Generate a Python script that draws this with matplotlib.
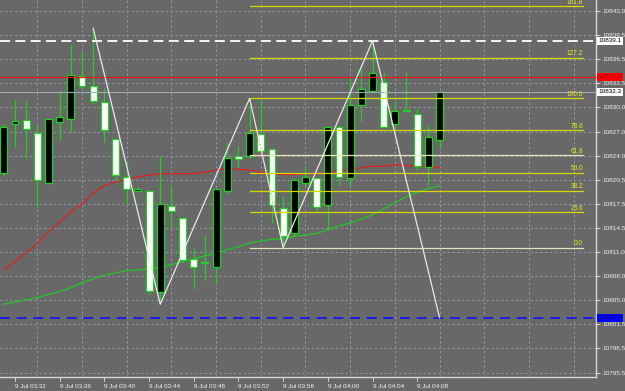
import matplotlib.pyplot as plt
import matplotlib.transforms as mtransforms
import numpy as np

plt.rcParams['font.family'] = ['Liberation Sans', 'DejaVu Sans']

# 1-minute candles, 9 Jul 03:31 .. 04:10
times = ['03:31', '03:32', '03:33', '03:34', '03:35', '03:36', '03:37', '03:38', '03:39', '03:40',
         '03:41', '03:42', '03:43', '03:44', '03:45', '03:46', '03:47', '03:48', '03:49', '03:50',
         '03:51', '03:52', '03:53', '03:54', '03:55', '03:56', '03:57', '03:58', '03:59', '04:00',
         '04:01', '04:02', '04:03', '04:04', '04:05', '04:06', '04:07', '04:08', '04:09', '04:10']
opens = [10821.4, 10828.0, 10828.5, 10826.7, 10820.1, 10828.3, 10828.6, 10834.4, 10833.0, 10830.9,
         10826.0, 10820.8, 10819.0, 10819.0, 10805.4, 10817.0, 10815.3, 10809.9, 10809.3, 10808.8,
         10819.0, 10823.7, 10823.7, 10826.6, 10824.6, 10816.7, 10813.3, 10820.1, 10820.7, 10817.1,
         10827.6, 10820.7, 10830.5, 10832.4, 10833.6, 10828.0, 10829.9, 10829.3, 10822.2, 10825.8]
highs = [10828.0, 10831.2, 10831.0, 10827.9, 10828.6, 10832.4, 10838.6, 10837.8, 10840.8, 10832.8,
         10826.1, 10822.8, 10819.5, 10819.1, 10823.7, 10819.8, 10815.5, 10811.3, 10813.1, 10819.4,
         10825.6, 10825.0, 10831.4, 10831.3, 10824.7, 10818.3, 10820.6, 10822.3, 10820.9, 10827.7,
         10827.8, 10834.3, 10835.4, 10839.1, 10834.8, 10831.1, 10835.0, 10830.1, 10827.8, 10832.3]
lows = [10821.0, 10824.9, 10823.4, 10816.9, 10819.9, 10825.8, 10826.9, 10832.6, 10830.8, 10825.5,
        10820.5, 10817.3, 10818.8, 10805.2, 10803.8, 10814.1, 10809.5, 10805.9, 10807.1, 10806.4,
        10818.7, 10822.2, 10823.4, 10824.1, 10814.7, 10811.4, 10813.0, 10819.6, 10816.2, 10813.8,
        10819.6, 10819.8, 10828.4, 10832.3, 10827.4, 10827.4, 10829.6, 10821.8, 10819.8, 10824.9]
closes = [10827.6, 10828.4, 10827.3, 10820.4, 10828.6, 10828.9, 10834.5, 10833.0, 10831.0, 10827.1,
          10821.1, 10819.3, 10819.3, 10805.6, 10817.2, 10816.3, 10809.8, 10808.8, 10809.4, 10819.3,
          10823.4, 10823.3, 10826.8, 10824.3, 10817.1, 10813.0, 10820.4, 10820.9, 10816.9, 10827.5,
          10820.9, 10830.5, 10832.6, 10834.8, 10827.6, 10829.7, 10829.7, 10822.3, 10826.2, 10832.3]

ma_red = [10808.4, 10809.5, 10810.7, 10811.9, 10813.5, 10814.8, 10816.2, 10817.2, 10818.7, 10819.7,
          10820.2, 10820.5, 10820.9, 10821.1, 10821.3, 10821.3, 10821.3, 10821.3, 10821.5, 10821.8,
          10822.0, 10821.9, 10821.8, 10821.5, 10821.3, 10821.2, 10821.2, 10821.3, 10821.3, 10821.5,
          10821.7, 10821.8, 10822.1, 10822.3, 10822.3, 10822.5, 10822.4, 10822.3, 10822.3, 10822.1]
ma_green = [10803.8, 10804.1, 10804.4, 10804.7, 10805.1, 10805.5, 10806.0, 10806.7, 10807.2, 10807.7,
            10808.0, 10808.3, 10808.4, 10808.5, 10808.7, 10809.1, 10809.5, 10809.9, 10810.3, 10810.6,
            10811.1, 10811.5, 10812.0, 10812.3, 10812.5, 10812.6, 10812.9, 10813.1, 10813.3, 10813.8,
            10814.3, 10814.7, 10815.2, 10815.8, 10816.6, 10817.4, 10818.2, 10818.8, 10819.3, 10819.7]

# zigzag turning points (candle index, price)
zz_idx = [8, 14, 22, 25, 33, 39]
zz_val = [10840.8, 10803.8, 10831.4, 10811.4, 10839.1, 10802.0]

# fibonacci retracement
fib_levels = [0.0, 23.6, 38.2, 50.0, 61.8, 78.6, 100.0, 127.2, 161.8]
fib_from = (25, 10811.4)
fib_to = (22, 10831.4)

line_white = 10839.1
line_red = 10834.3
line_bid = 10832.3
line_blue = 10802.0

ytick_labels = ['10843.0', '10839.5', '10836.5', '10833.5', '10830.0', '10827.0', '10824.0', '10820.5',
                '10817.5', '10814.5', '10811.0', '10808.0', '10805.0', '10801.5', '10798.5', '10795.5']
xtick_labels = ['9 Jul 03:32', '9 Jul 03:36', '9 Jul 03:40', '9 Jul 03:44', '9 Jul 03:48',
                '9 Jul 03:52', '9 Jul 03:56', '9 Jul 04:00', '9 Jul 04:04', '9 Jul 04:08']

bg = '#686868'
grid_c = '#8c98a4'
wick_c = '#22d022'
fg = '#f0f0f0'

fig = plt.figure(figsize=(6.25, 3.91), dpi=100)
fig.patch.set_facecolor(bg)
ax = fig.add_axes([0, 14 / 391, 596 / 625, 377 / 391])
ax.set_facecolor(bg)

x = np.arange(len(times))
o = np.array(opens)
c = np.array(closes)

ax.set_xlim(-0.34, 53.0)
ax.set_ylim(10794.05, 10844.59)

# grid
for gx in np.arange(3, 54, 4):
    ax.axvline(gx, color=grid_c, lw=0.7, ls=(0, (2.5, 2.5)), zorder=0)
ytick_pos = np.linspace(10843.11, 10794.65, len(ytick_labels))
for gy in ytick_pos:
    ax.axhline(gy, color=grid_c, lw=0.7, ls=(0, (2.5, 2.5)), zorder=0)

# moving averages
ax.plot(x, ma_red, color='#e02020', lw=0.9, zorder=2)
ax.plot(x, ma_green, color='#22c822', lw=0.9, zorder=2)

# candles
ax.vlines(x, lows, highs, color=wick_c, lw=0.9, zorder=3)
bull = c >= o
body_h = np.maximum(np.abs(c - o), 0.15)
ax.bar(x, body_h, bottom=np.minimum(o, c), width=0.62,
       color=np.where(bull, 'black', 'white'), edgecolor=wick_c, linewidth=0.9, zorder=4)

# horizontal lines
ax.axhline(line_white, color='white', lw=1.3, ls=(0, (5.5, 3)), zorder=5)
ax.axhline(line_red, color='#e81818', lw=0.9, zorder=5)
ax.axhline(line_bid, color='#a4a8b0', lw=0.8, zorder=5)
ax.axhline(line_blue, color='#1010ff', lw=1.2, ls=(0, (6, 4)), zorder=5)

# fibonacci levels
fib_end = 51.85
rng = fib_to[1] - fib_from[1]
for lvl in fib_levels:
    p = fib_from[1] + rng * lvl / 100
    col = '#e4e4b8' if lvl in (0.0, 61.8) else '#d8d800'
    ax.plot([fib_to[0], fib_end], [p, p], color=col, lw=0.9, zorder=6)
    ax.text(fib_end, p + 0.08, f'{lvl:.1f}', color='#eaea20', fontsize=4.7,
            ha='right', va='bottom', zorder=7)
ax.plot([fib_to[0], fib_from[0]], [fib_to[1], fib_from[1]], color='#ff2020', lw=0.9,
        ls=(0, (1, 1.5)), zorder=6)

# zigzag
ax.plot(zz_idx, zz_val, color='#e8e8e8', lw=0.9, zorder=7)

# axes styling
for s in ['top', 'left']:
    ax.spines[s].set_visible(False)
for s in ['right', 'bottom']:
    ax.spines[s].set_color('#d8d8d8')
    ax.spines[s].set_linewidth(1.0)

ax.yaxis.tick_right()
ax.set_yticks(ytick_pos, ytick_labels)
ax.tick_params(axis='y', colors=fg, labelsize=4.6, length=3, width=0.6, pad=1.5)

xt = [times.index(lbl.split()[-1]) for lbl in xtick_labels]
ax.set_xticks(xt, xtick_labels, ha='left')
ax.tick_params(axis='x', colors=fg, labelsize=4.6, length=3, width=0.6, pad=2)

# price tags on the right scale
trans = mtransforms.blended_transform_factory(ax.transAxes, ax.transData)
tags = [(line_white, 'white', 'black'), (line_red, '#ff0000', '#b00000'),
        (line_bid, 'white', 'black'), (line_blue, '#0000ff', '#000080')]
for val, box, txt in tags:
    ax.text(1.004, val, f'{val:.1f}', transform=trans, fontsize=4.6, color=txt,
            ha='left', va='center', clip_on=False, zorder=10,
            bbox=dict(boxstyle='square,pad=0.25', fc=box, ec='none'))

fig.savefig('out.png', dpi=100, facecolor=bg)
